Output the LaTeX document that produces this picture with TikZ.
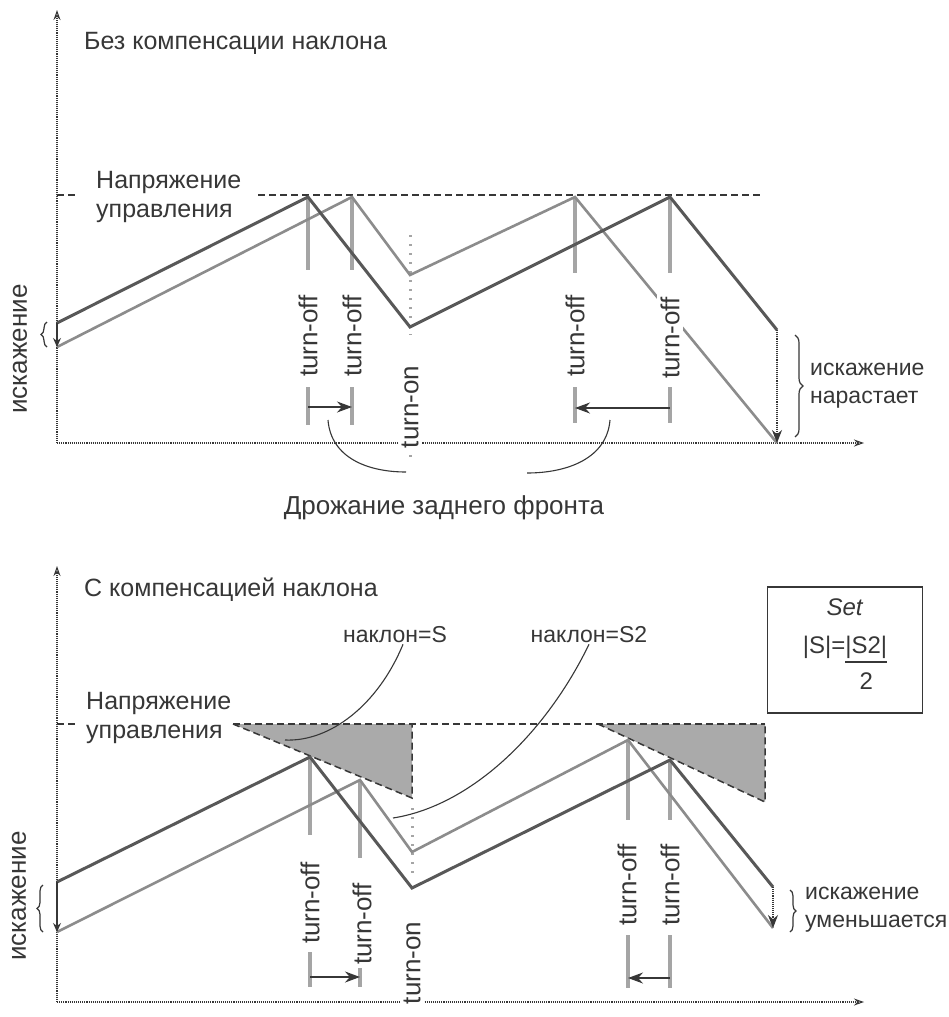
\documentclass[tikz,border=0pt]{standalone}
\usepackage{fontspec}
\setmainfont{Liberation Sans}
\usetikzlibrary{arrows.meta, positioning, decorations.pathreplacing}
\definecolor{inkgray}{RGB}{55,55,55}
\definecolor{rampdark}{RGB}{88,88,88}
\definecolor{ramplight}{RGB}{140,140,140}
\definecolor{markgray}{RGB}{165,165,165}
\definecolor{areagray}{RGB}{170,170,170}
\setlength{\arrayrulewidth}{1.6pt}
\tikzset{
  lbl/.style={font=\fontsize{23}{28}\selectfont, text=inkgray, inner sep=1pt},
  biglbl/.style={lbl, font=\fontsize{25}{29}\selectfont},
  vlbl/.style={lbl, rotate=90, fill=white, inner sep=3pt, font=\fontsize{26}{30}\selectfont},
  axisline/.style={-{Stealth[length=10pt, width=7pt, open]}, densely dotted, line width=1.1pt, color=inkgray},
  ctrl/.style={line width=1.5pt, dash pattern=on 7pt off 4pt, color=inkgray},
  rampA/.style={line width=3pt, color=rampdark, line join=miter},
  rampB/.style={line width=2.6pt, color=ramplight, line join=miter},
  edgemark/.style={line width=3.2pt, color=markgray},
  onmark/.style={line width=3pt, color=markgray, dash pattern=on 2pt off 7pt},
  jitter/.style={-{Stealth[length=15pt, width=11pt]}, line width=1.3pt, color=inkgray},
  drop/.style={-{Stealth[length=13pt, width=10pt]}, densely dotted, line width=1.1pt, color=inkgray},
  offsetarrow/.style={-{Stealth[length=9pt, width=8pt]}, line width=1.1pt, color=inkgray},
  pointer/.style={line width=1.1pt, color=inkgray},
  bracket/.style={decorate, decoration={brace, amplitude=6pt}, line width=1.2pt, color=inkgray},
  ramparea/.style={fill=areagray, draw=none},
}

\begin{document}
\begin{tikzpicture}[x=1pt, y=-1pt]
  \useasboundingbox[fill=white] (0,0) rectangle (949,1017);

  % ── Без компенсации наклона ──────────────────────────────────────────
  \coordinate (o1) at (57,443);
  \coordinate (a0) at (57,323);  \coordinate (b0) at (57,347);
  \coordinate (a1) at (308,197); \coordinate (b1) at (352,197);
  \coordinate (a2) at (410,327); \coordinate (b2) at (410,275);
  \coordinate (a3) at (670,197); \coordinate (b3) at (575,197);
  \coordinate (a4) at (777,330); \coordinate (b4) at (777,443);

  \draw[edgemark] (a1) -- ++(0,73)  (b1) -- ++(0,73)
                  (b3) -- ++(0,76)  (a3) -- ++(0,76);
  \draw[edgemark] (308,387) -- (308,425)  (352,387) -- (352,425)
                  (575,387) -- (575,423)  (670,387) -- (670,423);
  \draw[onmark] (410,235) -- (410,335)  (410,455) -- (410,463);

  \draw[axisline] (o1) -- (57,10);
  \draw[axisline] (o1) -- (864,443);
  \draw[ctrl] (57,195) -- (77,195)  (258,195) -- (760,195);

  \draw[rampB] (b0) -- (b1) -- (b2) -- (b3) -- (b4);
  \draw[rampA] (a0) -- (a1) -- (a2) -- (a3) -- (a4);

  \draw[jitter] (308,407) -- (352,407);
  \draw[jitter] (670,408) -- (575,408);
  \draw[drop] (a4) -- (b4);
  \draw[offsetarrow] (a0) -- (b0);

  \node[biglbl, anchor=west] (title1) at (83,43) {Без компенсации наклона};
  \node[biglbl, anchor=west, align=left] (vc1) at (95,197) {Напряжение\\управления};
  \node[vlbl] (dist1) at (20,349) {искажение};
  \node[vlbl] (off1) at (308,336) {turn-off};
  \node[vlbl] (off2) at (352,336) {turn-off};
  \node[vlbl] (off3) at (575,336) {turn-off};
  \node[vlbl] (off4) at (670,338) {turn-off};
  \node[vlbl] (on1) at (410,407) {turn-on};

  \coordinate (jl) at (328,420);    \coordinate (jr) at (610,420);
  \coordinate (jlEnd) at (406,472); \coordinate (jrEnd) at (527,473);
  \draw[pointer] (jl) .. controls (331,458) and (368,472) .. (jlEnd);
  \draw[pointer] (jr) .. controls (607,458) and (568,473) .. (jrEnd);
  \node[biglbl, font=\fontsize{26}{30}\selectfont] (jitterlbl) at (444,508) {Дрожание заднего фронта};

  \draw[bracket] (47,347) -- (47,322);
  \draw[bracket, decoration={amplitude=8pt}] (795,335) -- (795,437);
  \coordinate (growTip) at (805,386);
  \node[lbl, align=left, right=4pt of growTip] (grow) {искажение\\нарастает};

  % ── С компенсацией наклона ───────────────────────────────────────────
  \coordinate (o2) at (57,1002);
  \coordinate (c0) at (57,882);  \coordinate (d0) at (57,932);
  \coordinate (c1) at (310,757); \coordinate (d1) at (360,780);
  \coordinate (c2) at (412,888); \coordinate (d2) at (412,852);
  \coordinate (c3) at (670,760); \coordinate (d3) at (628,740);
  \coordinate (c4) at (773,887); \coordinate (d4) at (773,928);

  \draw[edgemark] (c1) -- ++(0,78)  (d1) -- ++(0,78)
                  (d3) -- (628,820)  (c3) -- (670,820);
  \draw[edgemark] (310,952) -- (310,987)  (360,967) -- (360,987)
                  (628,935) -- (628,988)  (670,935) -- (670,988);
  \draw[onmark] (412,808) -- (412,873);

  \fill[ramparea] (233,724) -- (412,724) -- (412,798) -- cycle;
  \fill[ramparea] (598,724) -- (765,724) -- (765,802) -- cycle;
  \draw[ctrl] (57,724) -- (77,724)  (233,724) -- (765,724);
  \draw[ctrl] (233,724) -- (412,798) -- (412,724)  (598,724) -- (765,802) -- (765,724);

  \draw[axisline] (o2) -- (57,566);
  \draw[axisline] (o2) -- (864,1002);

  \draw[rampB] (d0) -- (d1) -- (d2) -- (d3) -- (d4);
  \draw[rampA] (c0) -- (c1) -- (c2) -- (c3) -- (c4);

  \draw[jitter] (310,977) -- (360,977);
  \draw[jitter] (670,978) -- (628,978);
  \draw[drop] (c4) -- (d4);
  \draw[offsetarrow] (c0) -- (d0);

  \node[biglbl, anchor=west] (title2) at (83,590) {С компенсацией наклона};
  \node[lbl] (slopeS) at (395,635) {наклон=S};
  \node[lbl] (slopeS2) at (589,635) {наклон=S2};
  \node[biglbl, anchor=west, align=left] (vc2) at (85,718) {Напряжение\\управления};
  \node[vlbl] (dist2) at (19,896) {искажение};
  \node[vlbl] (off5) at (310,903) {turn-off};
  \node[vlbl] (off6) at (362,924) {turn-off};
  \node[vlbl] (off7) at (627,885) {turn-off};
  \node[vlbl] (off8) at (670,885) {turn-off};
  \node[vlbl] (on2) at (412,963) {turn-on};

  \coordinate (sTip) at (285,740);  \coordinate (s2Tip) at (393,818);
  \draw[pointer] ([xshift=8pt]slopeS.south) .. controls (378,705) and (330,742) .. (sTip);
  \draw[pointer] (slopeS2.south) .. controls (545,735) and (470,806) .. (s2Tip);

  \node[lbl, draw=inkgray, line width=1.3pt, font=\fontsize{24}{38}\selectfont,
        minimum width=155pt, minimum height=126pt, align=center] (setbox) at (845,650)
    {\textit{Set}\\|S|=\begin{tabular}[t]{@{}c@{}}|S2|\\[-4pt]\hline 2\end{tabular}};

  \draw[bracket] (43,932) -- (43,885);
  \draw[bracket] (790,890) -- (790,932);
  \coordinate (shrinkTip) at (800,910);
  \node[lbl, align=left, right=4pt of shrinkTip] (shrink) {искажение\\уменьшается};

\end{tikzpicture}
\end{document}
